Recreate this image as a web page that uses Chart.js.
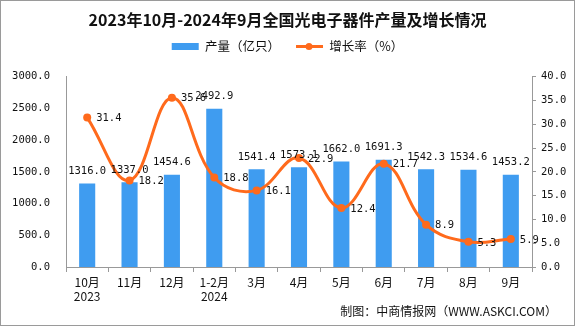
<!DOCTYPE html>
<html>
<head>
<meta charset="utf-8">
<script src="https://cdn.jsdelivr.net/npm/chart.js@4/dist/chart.umd.min.js"></script>
<style>
  html, body { margin: 0; padding: 0; background: #fff; }
  #wrap { width: 575px; height: 326px; }
</style>
</head>
<body>
<div id="wrap"><canvas id="myChart" width="575" height="326"></canvas></div>
<script>
var categories = [['10月', '2023'], '11月', '12月', ['1-2月', '2024'], '3月', '4月', '5月', '6月', '7月', '8月', '9月'];
var output = [1316.0, 1337.0, 1454.6, 2492.9, 1541.4, 1573.1, 1662.0, 1691.3, 1542.3, 1534.6, 1453.2];
var growth = [31.4, 18.2, 35.6, 18.8, 16.1, 22.9, 12.4, 21.7, 8.9, 5.3, 5.9];

var cjk = '"Noto Sans CJK SC", "Noto Sans", sans-serif';
var mono = '"DejaVu Sans Mono", "Liberation Mono", monospace';
var barColor = '#3f9cf0';
var lineColor = '#ff6a1c';

// value labels, legend dot, footer and frame
var extras = {
  id: 'extras',
  beforeLayout: function(chart) {
    // leave a gap under the legend
    var lg = chart.legend;
    if (lg && !lg._tall) {
      var fit = lg.fit;
      lg.fit = function() { fit.call(this); this.height += 14; };
      lg._tall = true;
    }
  },
  afterDatasetsDraw: function(chart) {
    var ctx = chart.ctx;
    ctx.save();
    ctx.font = '10.5px ' + mono;
    ctx.fillStyle = '#111';
    var barMeta = chart.getDatasetMeta(0);
    ctx.textAlign = 'center';
    ctx.textBaseline = 'bottom';
    barMeta.data.forEach(function(el, i) {
      ctx.fillText(output[i].toFixed(1), el.x, el.y - 7);
    });
    var lineMeta = chart.getDatasetMeta(1);
    ctx.textAlign = 'left';
    ctx.textBaseline = 'middle';
    lineMeta.data.forEach(function(el, i) {
      ctx.fillText(growth[i].toFixed(1), el.x + 9, el.y + 1);
    });
    ctx.restore();
  },
  afterDraw: function(chart) {
    var ctx = chart.ctx;
    ctx.save();
    var boxes = chart.legend.legendHitBoxes;
    if (boxes && boxes[1]) {
      var b = boxes[1];
      ctx.fillStyle = lineColor;
      ctx.beginPath();
      ctx.arc(b.left + 13, b.top + b.height / 2, 3.5, 0, Math.PI * 2);
      ctx.fill();
    }
    ctx.font = '12px ' + cjk;
    ctx.fillStyle = '#111';
    ctx.textAlign = 'right';
    ctx.textBaseline = 'middle';
    ctx.fillText('制图：中商情报网（WWW.ASKCI.COM）', 557, 311);
    ctx.strokeStyle = '#9a9a9a';
    ctx.lineWidth = 1;
    ctx.strokeRect(0.5, 0.5, chart.width - 1, chart.height - 1);
    ctx.restore();
  }
};

var ctx = document.getElementById('myChart').getContext('2d');
var myChart = new Chart(ctx, {
  type: 'bar',
  data: {
    labels: categories,
    datasets: [{
        type: 'bar',
        label: '产量（亿只）',
        data: output,
        backgroundColor: barColor,
        barPercentage: 0.38,
        categoryPercentage: 1,
        yAxisID: 'y',
        order: 2
      },
      {
        type: 'line',
        label: '增长率（%）',
        data: growth,
        borderColor: lineColor,
        backgroundColor: lineColor,
        borderWidth: 3,
        pointRadius: 4,
        pointBackgroundColor: lineColor,
        pointBorderWidth: 0,
        tension: 0.4,
        yAxisID: 'y1',
        order: 1
      }
    ]
  },
  options: {
    responsive: false,
    animation: false,
    layout: { padding: { left: 0, right: 0, top: 0, bottom: 0 } },
    plugins: {
      tooltip: { enabled: false },
      title: {
        display: true,
        text: '2023年10月-2024年9月全国光电子器件产量及增长情况',
        color: '#111',
        font: { family: cjk, size: 16, weight: 'bold' },
        padding: { top: 10, bottom: 4 }
      },
      legend: {
        display: true,
        labels: {
          color: '#111',
          font: { family: cjk, size: 12.5 },
          usePointStyle: true,
          pointStyleWidth: 27,
          boxHeight: 7,
          padding: 7,
          generateLabels: function(chart) {
            var items = Chart.defaults.plugins.legend.labels.generateLabels(chart);
            items.sort(function(a, b) { return a.datasetIndex - b.datasetIndex; });
            items.forEach(function(it) {
              if (it.datasetIndex === 0) { it.pointStyle = 'rect'; it.lineWidth = 0; it.text = it.text + '\u3000 '; }
              else { it.pointStyle = 'line'; it.lineWidth = 3; it.strokeStyle = lineColor; }
            });
            return items;
          }
        }
      }
    },
    scales: {
      x: {
        offset: true,
        grid: { display: true, offset: true, drawOnChartArea: false, tickLength: 5, color: '#999' },
        border: { display: true, color: '#999' },
        ticks: { color: '#111', font: { family: cjk, size: 12, lineHeight: 1.15 }, maxRotation: 0, autoSkip: false, padding: 4 },
        afterFit: function(scale) { scale.height = 59; }
      },
      y: {
        position: 'left',
        min: 0,
        max: 3000,
        grid: { display: false },
        border: { display: true, color: '#999' },
        ticks: {
          stepSize: 500,
          color: '#111',
          font: { family: mono, size: 10.5 },
          padding: 8,
          callback: function(v) { return v.toFixed(1); }
        },
        afterFit: function(scale) { scale.width = 66; }
      },
      y1: {
        position: 'right',
        min: 0,
        max: 40,
        grid: { display: true, drawOnChartArea: false, tickLength: 4, color: '#999' },
        border: { display: true, color: '#999' },
        ticks: {
          stepSize: 5,
          color: '#111',
          font: { family: mono, size: 10.5 },
          padding: 5,
          callback: function(v) { return v.toFixed(1); }
        },
        afterFit: function(scale) { scale.width = 43; }
      }
    }
  },
  plugins: [extras]
});
</script>
</body>
</html>
